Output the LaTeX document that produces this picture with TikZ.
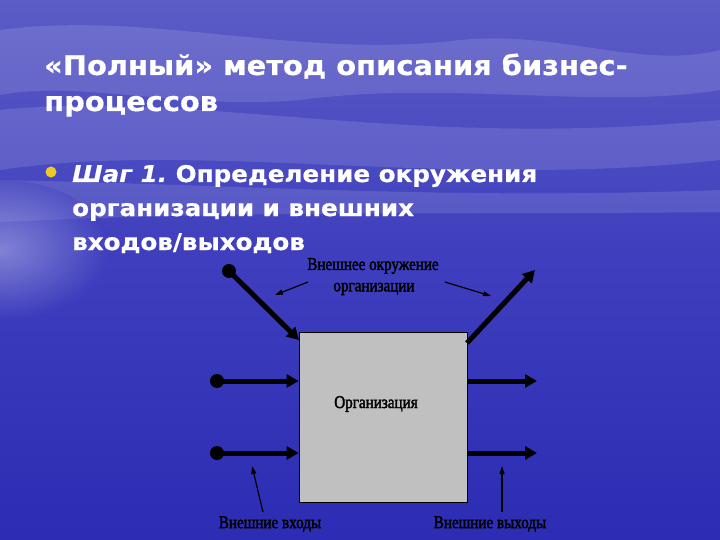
\documentclass[tikz,border=0pt]{standalone}
\usepackage{fontspec}
\setmainfont{DejaVu Sans}
\newfontfamily\titlefont[FakeStretch=1.07,FakeBold=0.6]{DejaVu Sans}
\newfontfamily\diagfont[FakeStretch=0.84,FakeBold=2]{Liberation Serif}
\usetikzlibrary{arrows.meta}
\definecolor{bgtop}{RGB}{92,92,198}
\definecolor{bgmid}{RGB}{62,62,190}
\definecolor{bgbot}{RGB}{44,44,180}
\definecolor{boxgray}{RGB}{192,192,192}
\definecolor{bullety}{RGB}{240,200,40}
\tikzset{
  titletext/.style={anchor=base west,inner sep=0pt,font=\titlefont\fontsize{27}{30}\selectfont\bfseries,text=white},
  bodytext/.style={anchor=base west,inner sep=0pt,font=\titlefont\fontsize{23}{25}\selectfont\bfseries,text=white},
  difont/.style={font=\diagfont\fontsize{18}{20}\selectfont,text=black,inner sep=0pt},
  thick arrow/.style={line width=5pt,-{Triangle[length=12pt,width=13pt]}},
  thin arrow/.style={line width=1.2pt,-{Triangle[length=8pt,width=5pt]}},
  dot/.style={circle,fill=black,inner sep=0pt,minimum size=14pt},
  cloud/.style={white,opacity=0.12},
}
\begin{document}
\begin{tikzpicture}[x=1pt,y=-1pt]
\useasboundingbox (0,0) rectangle (720,540);
\shade[top color=bgtop,bottom color=bgmid] (0,0) rectangle (720,260);
\shade[top color=bgmid,bottom color=bgbot] (0,260) rectangle (720,540);
% clouds
\fill[cloud] (0,30) .. controls (150,10) and (300,60) .. (460,40) .. controls (560,30) and (640,70) .. (720,50) -- (720,90) .. controls (600,110) and (450,80) .. (300,100) .. controls (180,110) and (80,80) .. (0,95) -- cycle;
\fill[cloud] (0,110) .. controls (200,90) and (400,150) .. (720,120) -- (720,160) .. controls (450,190) and (200,140) .. (0,170) -- cycle;
\fill[cloud] (0,180) .. controls (250,185) and (450,200) .. (720,190) -- (720,212) .. controls (450,215) and (250,210) .. (0,222) -- cycle;
% sun reflection at left
\shade[inner color=white,outer color=bgmid,opacity=0.35] (0,250) ellipse (110pt and 70pt);
% title
\node[titletext] (t1) at (44,75) {«Полный» метод описания бизнес-};
\node[titletext] (t2) at (44,111) {процессов};
% bullet
\node[circle,fill=bullety,inner sep=0pt,minimum size=11pt] (bul) at (51,172) {};
\node[bodytext] (b1) at (72,182) {\itshape Шаг 1.\upshape\ Определение окружения};
\node[bodytext] (b2) at (72,216) {организации и внешних};
\node[bodytext] (b3) at (72,250) {входов/выходов};
% box
\node[draw=black,line width=0.8pt,fill=boxgray,minimum width=168pt,minimum height=170pt,inner sep=0pt] (org) at (383,417) {};
\node[difont] (orgl) at (376,404) {Организация};
% inputs / outputs
\node[dot] (d1) at (229,271) {};
\node[dot] (d2) at (217,381) {};
\node[dot] (d3) at (217,453) {};
\coordinate (in1) at (299,340);
\draw[thick arrow] (d1.center) -- (in1);
\draw[thick arrow] (d2.center) -- (org.west |- d2);
\draw[thick arrow] (d3.center) -- (org.west |- d3);
\coordinate (o1s) at (467,343);
\coordinate (o1) at (535,270);
\coordinate (o2) at (537,381);
\coordinate (o3) at (537,453);
\draw[thick arrow] (o1s) -- (o1);
\draw[thick arrow] (org.east |- o2) -- (o2);
\draw[thick arrow] (org.east |- o3) -- (o3);
% labels
\node[difont] (env1) at (373,266) {Внешнее окружение};
\node[difont] (env2) at (374,289) {организации};
\coordinate (ea1) at (275,295);
\coordinate (ea2) at (491,296);
\draw[thin arrow] (308,282) -- (ea1);
\draw[thin arrow] (445,282) -- (ea2);
\node[difont] (inl) at (270,524) {Внешние входы};
\node[difont] (outl) at (490,524) {Внешние выходы};
\coordinate (ia) at (252,466);
\coordinate (oa) at (502,466);
\draw[thin arrow] (263,512) -- (ia);
\draw[thin arrow] (502,512) -- (oa);
\end{tikzpicture}
\end{document}
